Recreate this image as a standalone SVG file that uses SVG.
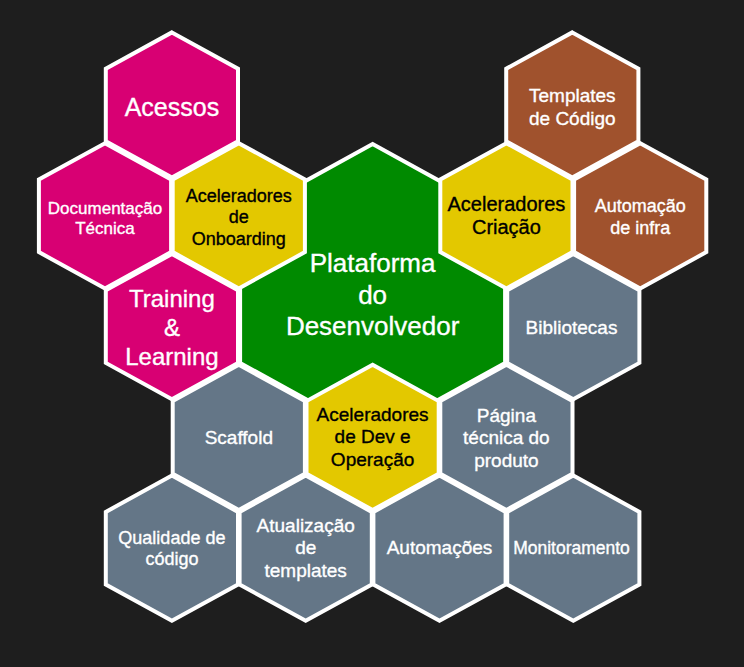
<svg xmlns="http://www.w3.org/2000/svg" xmlns:xlink="http://www.w3.org/1999/xlink" width="744" height="667" viewBox="0 0 744 667">
  <defs>
    <!-- pointy-top hexagon cell, centred on the origin -->
    <path id="hex" d="M0,-72.6 L66.1,-36.3 L66.1,36.3 L0,72.6 L-66.1,36.3 L-66.1,-36.3 Z"/>
    <!-- large central hexagon -->
    <path id="hexBig" d="M0,-146 L132.5,-73 L132.5,73 L0,146 L-132.5,73 L-132.5,-73 Z"/>
    <style>
      .cell { stroke: #ffffff; stroke-width: 4; stroke-linejoin: miter; }
      .magenta { fill: #d80073; }
      .yellow { fill: #e3c800; }
      .green { fill: #008a00; }
      .brown { fill: #a0522d; }
      .gray { fill: #647687; }
      text { font-family: "Liberation Sans", Helvetica, Arial, sans-serif; text-anchor: middle; stroke-width: 0.35; }
      .light { fill: #ffffff; stroke: #ffffff; }
      .dark { fill: #000000; stroke: #000000; }
    </style>
  </defs>

  <rect width="744" height="667" fill="#1e1e1e"/>

  <!-- central platform (drawn first, the accelerators overlap it) -->
  <g id="plataforma">
    <use xlink:href="#hexBig" href="#hexBig" x="372.6" y="290" class="cell green"/>
    <text class="light" font-size="26"><tspan x="372.6" y="272">Plataforma</tspan><tspan x="372.6" y="303.5">do</tspan><tspan x="372.6" y="334.5">Desenvolvedor</tspan></text>
  </g>

  <!-- row 1 -->
  <g id="acessos">
    <use xlink:href="#hex" href="#hex" x="171.9" y="105" class="cell magenta"/>
    <text class="light" font-size="25" x="171.9" y="116">Acessos</text>
  </g>
  <g id="templates-codigo">
    <use xlink:href="#hex" href="#hex" x="572.3" y="105" class="cell brown"/>
    <text class="light" font-size="19"><tspan x="572.3" y="102">Templates</tspan><tspan x="572.3" y="125">de Código</tspan></text>
  </g>

  <!-- row 2 -->
  <g id="documentacao-tecnica">
    <use xlink:href="#hex" href="#hex" x="105" y="215.8" class="cell magenta"/>
    <text class="light" font-size="17"><tspan x="105" y="214">Documentação</tspan><tspan x="105" y="234">Técnica</tspan></text>
  </g>
  <g id="aceleradores-onboarding">
    <use xlink:href="#hex" href="#hex" x="238.8" y="215.8" class="cell yellow"/>
    <text class="dark" font-size="18"><tspan x="238.8" y="201.5">Aceleradores</tspan><tspan x="238.8" y="223">de</tspan><tspan x="238.8" y="244.5">Onboarding</tspan></text>
  </g>
  <g id="aceleradores-criacao">
    <use xlink:href="#hex" href="#hex" x="506.4" y="215.8" class="cell yellow"/>
    <text class="dark" font-size="20"><tspan x="506.4" y="211">Aceleradores</tspan><tspan x="506.4" y="234">Criação</tspan></text>
  </g>
  <g id="automacao-infra">
    <use xlink:href="#hex" href="#hex" x="640.2" y="215.8" class="cell brown"/>
    <text class="light" font-size="18"><tspan x="640.2" y="211.5">Automação</tspan><tspan x="640.2" y="234">de infra</tspan></text>
  </g>

  <!-- row 3 -->
  <g id="training-learning">
    <use xlink:href="#hex" href="#hex" x="171.9" y="326.6" class="cell magenta"/>
    <text class="light" font-size="24"><tspan x="171.9" y="306.5">Training</tspan><tspan x="171.9" y="335.5">&amp;</tspan><tspan x="171.9" y="364.5">Learning</tspan></text>
  </g>
  <g id="bibliotecas">
    <use xlink:href="#hex" href="#hex" x="573.3" y="326.6" class="cell gray"/>
    <text class="light" font-size="19" x="571.5" y="333.5">Bibliotecas</text>
  </g>

  <!-- row 4 -->
  <g id="scaffold">
    <use xlink:href="#hex" href="#hex" x="238.8" y="437.4" class="cell gray"/>
    <text class="light" font-size="19" x="238.8" y="443.5">Scaffold</text>
  </g>
  <g id="aceleradores-dev-operacao">
    <use xlink:href="#hex" href="#hex" x="372.6" y="437.4" class="cell yellow"/>
    <text class="dark" font-size="19"><tspan x="372.6" y="420.5">Aceleradores</tspan><tspan x="372.6" y="443">de Dev e</tspan><tspan x="372.6" y="465.5">Operação</tspan></text>
  </g>
  <g id="pagina-tecnica">
    <use xlink:href="#hex" href="#hex" x="506.4" y="437.4" class="cell gray"/>
    <text class="light" font-size="19"><tspan x="506.4" y="421.5">Página</tspan><tspan x="506.4" y="444">técnica do</tspan><tspan x="506.4" y="466.5">produto</tspan></text>
  </g>

  <!-- row 5 -->
  <g id="qualidade-codigo">
    <use xlink:href="#hex" href="#hex" x="171.9" y="548.2" class="cell gray"/>
    <text class="light" font-size="18"><tspan x="171.9" y="543.5">Qualidade de</tspan><tspan x="171.9" y="565">código</tspan></text>
  </g>
  <g id="atualizacao-templates">
    <use xlink:href="#hex" href="#hex" x="305.7" y="548.2" class="cell gray"/>
    <text class="light" font-size="19"><tspan x="305.7" y="531.5">Atualização</tspan><tspan x="305.7" y="554">de</tspan><tspan x="305.7" y="576.5">templates</tspan></text>
  </g>
  <g id="automacoes">
    <use xlink:href="#hex" href="#hex" x="439.5" y="548.2" class="cell gray"/>
    <text class="light" font-size="19" x="439.5" y="554">Automações</text>
  </g>
  <g id="monitoramento">
    <use xlink:href="#hex" href="#hex" x="573.3" y="548.2" class="cell gray"/>
    <text class="light" font-size="17.5" x="571.5" y="554">Monitoramento</text>
  </g>
</svg>
